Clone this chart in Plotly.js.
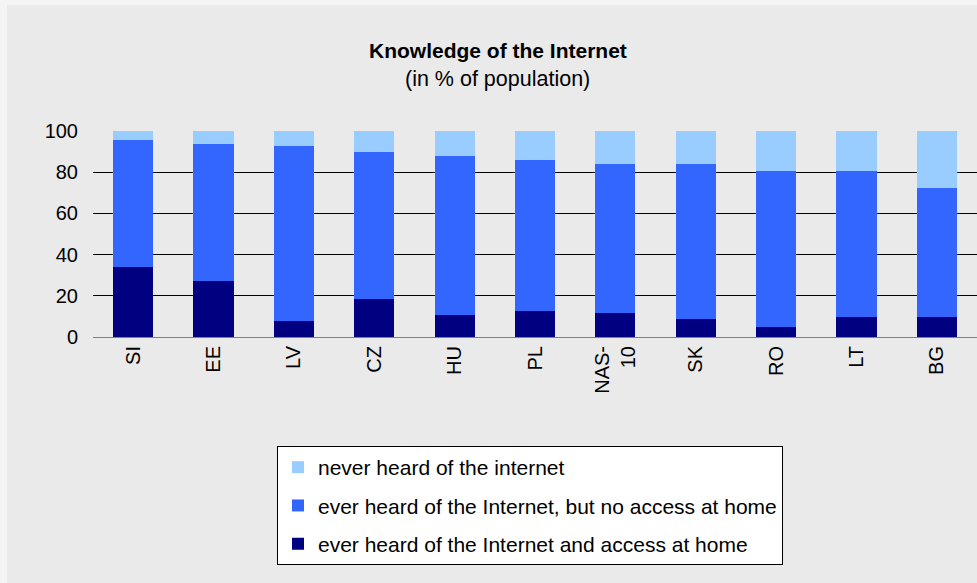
<!DOCTYPE html>
<html>
<head>
<meta charset="utf-8">
<script src="https://cdn.plot.ly/plotly-3.0.1.min.js"></script>
<style>html,body{margin:0;padding:0;background:#EAEAEA;}#chart{width:977px;height:583px;}</style>
</head>
<body>
<div id="chart"></div>
<script>
const categories = ["SI", "EE", "LV", "CZ", "HU", "PL", "NAS-<br>10", "SK", "RO", "LT", "BG"];
const accessAtHome = [34, 27, 7.6, 18.3, 10.5, 12.5, 11.5, 8.6, 4.7, 9.6, 9.6];
const heardNoAccess = [61.6, 66.6, 85.1, 71.5, 77.3, 73.4, 72.5, 75.4, 75.9, 71.0, 62.7];
const neverHeard = [4.4, 6.4, 7.3, 10.2, 12.2, 14.1, 16.0, 16.0, 19.4, 19.4, 27.7];
const seriesNames = [
  "ever heard of the Internet and access at home",
  "ever heard of the Internet, but no access at home",
  "never heard of the internet"
];
const seriesColors = ["#000080", "#3366FF", "#99CCFF"];
const seriesValues = [accessAtHome, heardNoAccess, neverHeard];

const traces = seriesValues.map((vals, i) => ({
  type: "bar",
  x: categories,
  y: vals,
  name: seriesNames[i],
  legendgroup: "g" + i,
  legendrank: 3 - i,
  marker: {color: seriesColors[i], line: {width: 0}},
  hoverinfo: "none"
}));

const plotW = 977 - 93, plotH = 583 - 131 - 246;

const layout = {
  width: 977, height: 583,
  paper_bgcolor: "#EAEAEA",
  plot_bgcolor: "#EAEAEA",
  font: {family: "Liberation Sans, Arial, sans-serif", size: 20, color: "#000"},
  barmode: "stack",
  bargap: 0.5,
  margin: {l: 93, r: 0, t: 131, b: 246},
  showlegend: true,
  legend: {
    x: (277 - 93) / plotW, y: (337 - 446) / plotH, xanchor: "left", yanchor: "top",
    bgcolor: "#FFFFFF", bordercolor: "#000000", borderwidth: 1,
    traceorder: "grouped", tracegroupgap: 8,
    font: {size: 21, color: "#000"}
  },
  xaxis: {
    type: "category",
    tickangle: -90,
    showline: true, linecolor: "#808080", linewidth: 1,
    showgrid: false, ticks: "", zeroline: false,
    tickfont: {size: 20}
  },
  yaxis: {
    range: [0, 100], tickvals: [0, 20, 40, 60, 80, 100],
    showgrid: true, gridcolor: "#000000", gridwidth: 1,
    zeroline: false, showline: false,
    ticks: "",
    ticklabelstandoff: 14,
    tickfont: {size: 20}
  },
  shapes: [
    {type: "rect", xref: "paper", yref: "paper", layer: "below", line: {width: 0}, fillcolor: "#F4F4F4",
     x0: -93 / plotW, x1: -86 / plotW, y0: 1 - 452 / plotH, y1: 1 + 131 / plotH},
    {type: "rect", xref: "paper", yref: "paper", layer: "below", line: {width: 0}, fillcolor: "#F4F4F4",
     x0: -93 / plotW, x1: 1, y0: 1 + 126 / plotH, y1: 1 + 131 / plotH}
  ],
  annotations: [
    {text: "<b>Knowledge of the Internet</b>", xref: "paper", yref: "paper", x: (498 - 93) / plotW, y: 1, xanchor: "center", yanchor: "middle", yshift: 81, showarrow: false, font: {size: 21}},
    {text: "(in % of population)", xref: "paper", yref: "paper", x: (497 - 93) / plotW, y: 1, xanchor: "center", yanchor: "middle", yshift: 52, showarrow: false, font: {size: 21.5}}
  ]
};

Plotly.newPlot("chart", traces, layout, {displayModeBar: false, staticPlot: true});
</script>
</body>
</html>
